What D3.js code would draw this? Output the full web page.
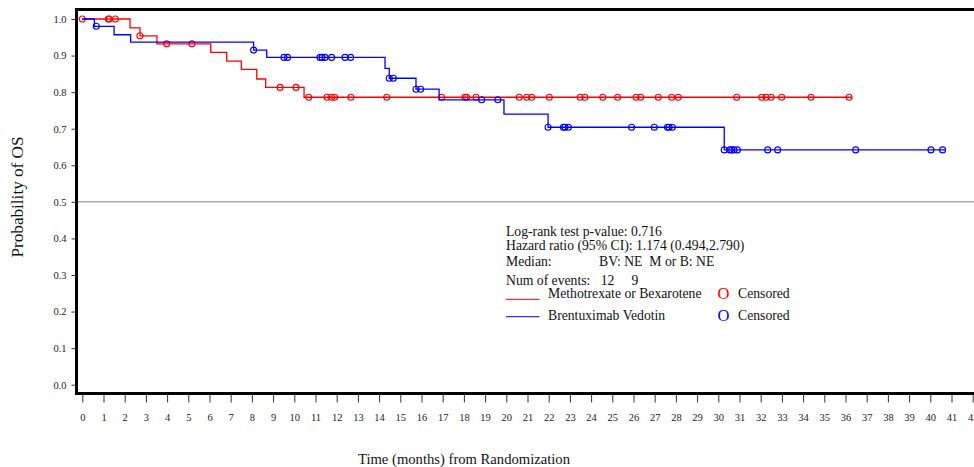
<!DOCTYPE html>
<html lang="en">
<head>
<meta charset="UTF-8">
<title>Probability of OS</title>
<script src="https://d3js.org/d3.v7.min.js"></script>
<style>
  body { margin: 0; background: #fff; }
  text { font-family: "Liberation Serif", "Times New Roman", serif; }
</style>
</head>
<body>
<div id="chart"></div>
<script>
// Methotrexate or Bexarotene (red): event times and survival after each step
const redTimes = [0, 2.25, 2.72, 3.52, 6.06, 6.81, 7.50, 8.23, 8.65, 10.46];
const redSurv  = [1.0, 0.976, 0.954, 0.932, 0.909, 0.885, 0.862, 0.836, 0.813, 0.786];
const redEnd = 36.3;
const redCensor = [0, 1.23, 1.27, 1.56, 2.72, 3.98, 5.17, 9.33, 10.08, 10.68, 11.54, 11.76, 11.9,
  12.67, 14.36, 16.95, 18.05, 18.13, 18.57, 20.61, 20.96, 21.2, 22.03, 23.48, 23.71, 24.55, 25.25,
  26.12, 26.34, 27.17, 27.8, 28.11, 30.87, 32.05, 32.25, 32.49, 32.99, 34.37, 36.17];

// Brentuximab Vedotin (blue)
const blueTimes = [0, 0.57, 1.5, 2.28, 8.08, 8.7, 14.28, 14.48, 15.74, 16.83, 19.89, 21.97, 30.28];
const blueSurv  = [1.0, 0.98, 0.957, 0.937, 0.915, 0.895, 0.865, 0.838, 0.808, 0.779, 0.74, 0.704, 0.642];
const blueEnd = 40.74;
const blueCensor = [0.66, 8.08, 9.51, 9.68, 11.21, 11.31, 11.45, 11.76, 12.39, 12.66, 14.48, 14.67,
  15.74, 15.96, 18.84, 19.6, 21.97, 22.69, 22.77, 22.93, 25.91, 26.98, 27.6, 27.68, 27.83,
  30.28, 30.55, 30.63, 30.74, 30.9, 32.33, 32.8, 36.48, 40.03, 40.58];

const xTicks = d3.range(0, 43);
const yTicks = [0, 0.1, 0.2, 0.3, 0.4, 0.5, 0.6, 0.7, 0.8, 0.9, 1.0];

const statLines = [
  "Log-rank test p-value: 0.716",
  "Hazard ratio (95% CI): 1.174 (0.494,2.790)"
];
const groups = ["Methotrexate or Bexarotene", "Brentuximab Vedotin"];
const colors = ["#ff0000", "#0000ff"];
const numEvents = ["12", "9"];

const width = 974, height = 467;
const frame = { left: 76.5, top: 9.5, bottom: 393.5 };

const svg = d3.select("#chart").append("svg")
  .attr("width", width)
  .attr("height", height);

const x = d3.scaleLinear().domain([0, 42]).range([82.3, 972.7]);
const y = d3.scaleLinear().domain([0, 1]).range([384.7, 19]);

// 0.5 reference line
svg.append("line")
  .attr("x1", frame.left).attr("x2", width)
  .attr("y1", y(0.5)).attr("y2", y(0.5))
  .attr("stroke", "#808080").attr("stroke-width", 1);

// axes
const yAxis = svg.append("g")
  .attr("transform", `translate(${frame.left - 1},0)`)
  .call(d3.axisLeft(y).tickValues(yTicks).tickFormat(d3.format(".1f")).tickSize(4).tickPadding(5));
yAxis.select(".domain").remove();
yAxis.selectAll("text").style("font-size", "10.5px").style("font-family", "Liberation Serif").attr("fill", "#222");
yAxis.selectAll("line").attr("stroke", "#333");

const xAxis = svg.append("g")
  .attr("transform", `translate(0,${frame.bottom + 1})`)
  .call(d3.axisBottom(x).tickValues(xTicks).tickSize(8).tickPadding(11));
xAxis.select(".domain").remove();
xAxis.selectAll("text").style("font-size", "10.5px").style("font-family", "Liberation Serif").attr("fill", "#222");
xAxis.selectAll("line").attr("stroke", "#333");

// frame (right side runs off the page)
svg.append("rect")
  .attr("x", frame.left).attr("y", frame.top)
  .attr("width", 1000).attr("height", frame.bottom - frame.top)
  .attr("fill", "none").attr("stroke", "#000").attr("stroke-width", 3);

// survival curves
const line = d3.line()
  .x(d => x(d[0]))
  .y(d => y(d[1]))
  .curve(d3.curveStepAfter);

function survAt(times, surv, t) {
  let i = d3.bisectRight(times, t) - 1;
  return surv[Math.max(i, 0)];
}

const series = [
  { times: redTimes, surv: redSurv, end: redEnd, censor: redCensor, color: colors[0] },
  { times: blueTimes, surv: blueSurv, end: blueEnd, censor: blueCensor, color: colors[1] }
];

series.forEach(s => {
  const pts = s.times.map((t, i) => [t, s.surv[i]]);
  pts.push([s.end, s.surv[s.surv.length - 1]]);
  svg.append("path")
    .attr("d", line(pts))
    .attr("fill", "none")
    .attr("stroke", s.color)
    .attr("stroke-width", 1.3);

  svg.append("g").selectAll("circle")
    .data(s.censor)
    .enter()
    .append("circle")
    .attr("cx", d => x(d))
    .attr("cy", d => y(survAt(s.times, s.surv, d)))
    .attr("r", 3)
    .attr("fill", "none")
    .attr("stroke", s.color)
    .attr("stroke-width", 1.1);
});

// annotation block
const ann = svg.append("g").style("font-size", "13.7px").attr("fill", "#111");
ann.append("text").attr("x", 506).attr("y", 236).text(statLines[0]);
ann.append("text").attr("x", 506).attr("y", 249.5).text(statLines[1]);
ann.append("text").attr("x", 506).attr("y", 266).text("Median:");
ann.append("text").attr("x", 599).attr("y", 266).text("BV: NE  M or B: NE").style("white-space", "pre");
ann.append("text").attr("x", 506).attr("y", 284.5).text("Num of events:");
ann.append("text").attr("x", 607.5).attr("y", 284.5).text(numEvents[0]).attr("text-anchor", "middle");
ann.append("text").attr("x", 635).attr("y", 284.5).text(numEvents[1]).attr("text-anchor", "middle");

const legY = [297.7, 320];
const legLineY = [299.3, 316.7];
groups.forEach((g, i) => {
  ann.append("line")
    .attr("x1", 506).attr("x2", 539.5)
    .attr("y1", legLineY[i]).attr("y2", legLineY[i])
    .attr("stroke", colors[i]).attr("stroke-width", 1);
  ann.append("text").attr("x", 548).attr("y", legY[i]).text(g);
  ann.append("text").attr("x", 723.5).attr("y", legY[i] + 0.8)
    .attr("text-anchor", "middle").style("font-size", "16.5px")
    .attr("fill", colors[i]).text("O");
  ann.append("text").attr("x", 738).attr("y", legY[i]).text("Censored");
});

// axis titles
svg.append("text")
  .attr("transform", "translate(22.5,197) rotate(-90)")
  .attr("text-anchor", "middle")
  .style("font-size", "16px")
  .attr("textLength", 121).attr("lengthAdjust", "spacingAndGlyphs")
  .attr("fill", "#111")
  .text("Probability of OS");

svg.append("text")
  .attr("x", 464).attr("y", 463.5)
  .attr("text-anchor", "middle")
  .style("font-size", "15.5px")
  .attr("textLength", 212).attr("lengthAdjust", "spacingAndGlyphs")
  .attr("fill", "#111")
  .text("Time (months) from Randomization");
</script>
</body>
</html>
